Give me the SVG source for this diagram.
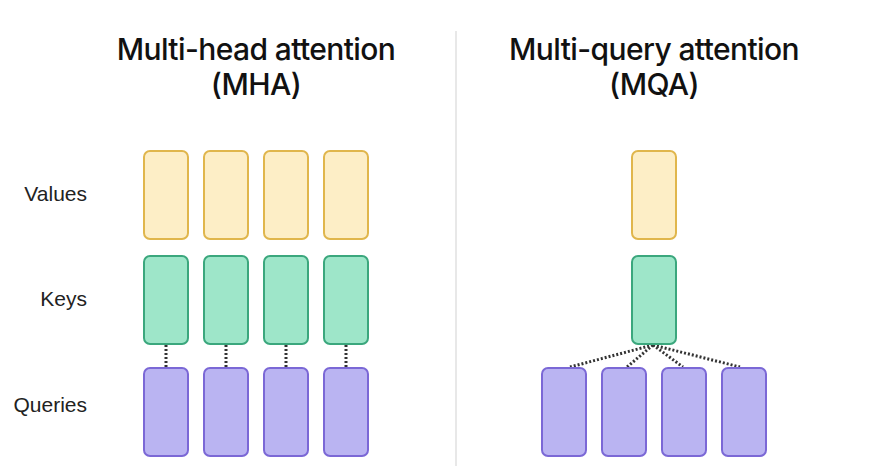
<svg xmlns="http://www.w3.org/2000/svg" width="872" height="472" viewBox="0 0 872 472">
<style>
.title{font-family:Inter,"Noto Sans",sans-serif;font-size:30px;font-weight:500;fill:#111;text-anchor:middle;letter-spacing:-0.6px}
.lab{font-family:"Liberation Sans",Arial,sans-serif;font-size:21px;fill:#222;text-anchor:end}
.v{fill:#fdeec6;stroke:#e0b64c;stroke-width:2}
.k{fill:#9ee6c9;stroke:#3ba77d;stroke-width:2}
.q{fill:#bab4f2;stroke:#7b68d6;stroke-width:2}
.c{stroke:#333;stroke-width:3;stroke-dasharray:2 2;fill:none}
</style>
<rect width="872" height="472" fill="#fff"/>
<line x1="456" y1="31" x2="456" y2="466" stroke="#e8e8e8" stroke-width="2"/>
<text class="title" x="256" y="60">Multi-head attention</text>
<text class="title" x="256" y="95">(MHA)</text>
<text class="title" x="654" y="60">Multi-query attention</text>
<text class="title" x="654" y="95">(MQA)</text>
<text class="lab" x="87" y="201">Values</text>
<text class="lab" x="87" y="306">Keys</text>
<text class="lab" x="87" y="412">Queries</text>
<g id="connectors">
<line class="c" x1="166" y1="345" x2="166" y2="367"/>
<line class="c" x1="226" y1="345" x2="226" y2="367"/>
<line class="c" x1="286" y1="345" x2="286" y2="367"/>
<line class="c" x1="346" y1="345" x2="346" y2="367"/>
<line class="c" x1="653" y1="345" x2="570" y2="367"/>
<line class="c" x1="653" y1="345" x2="627" y2="367"/>
<line class="c" x1="653" y1="345" x2="683" y2="367"/>
<line class="c" x1="653" y1="345" x2="740" y2="367"/>
</g>
<g id="mha-v1"><rect class="v" x="144" y="151" width="44" height="88" rx="6"/></g>
<g id="mha-v2"><rect class="v" x="204" y="151" width="44" height="88" rx="6"/></g>
<g id="mha-v3"><rect class="v" x="264" y="151" width="44" height="88" rx="6"/></g>
<g id="mha-v4"><rect class="v" x="324" y="151" width="44" height="88" rx="6"/></g>
<g id="mha-k1"><rect class="k" x="144" y="256" width="44" height="88" rx="6"/></g>
<g id="mha-k2"><rect class="k" x="204" y="256" width="44" height="88" rx="6"/></g>
<g id="mha-k3"><rect class="k" x="264" y="256" width="44" height="88" rx="6"/></g>
<g id="mha-k4"><rect class="k" x="324" y="256" width="44" height="88" rx="6"/></g>
<g id="mha-q1"><rect class="q" x="144" y="368" width="44" height="88" rx="6"/></g>
<g id="mha-q2"><rect class="q" x="204" y="368" width="44" height="88" rx="6"/></g>
<g id="mha-q3"><rect class="q" x="264" y="368" width="44" height="88" rx="6"/></g>
<g id="mha-q4"><rect class="q" x="324" y="368" width="44" height="88" rx="6"/></g>
<g id="mqa-v"><rect class="v" x="632" y="151" width="44" height="88" rx="6"/></g>
<g id="mqa-k"><rect class="k" x="632" y="256" width="44" height="88" rx="6"/></g>
<g id="mqa-q1"><rect class="q" x="542" y="368" width="44" height="88" rx="6"/></g>
<g id="mqa-q2"><rect class="q" x="602" y="368" width="44" height="88" rx="6"/></g>
<g id="mqa-q3"><rect class="q" x="662" y="368" width="44" height="88" rx="6"/></g>
<g id="mqa-q4"><rect class="q" x="722" y="368" width="44" height="88" rx="6"/></g>
</svg>
